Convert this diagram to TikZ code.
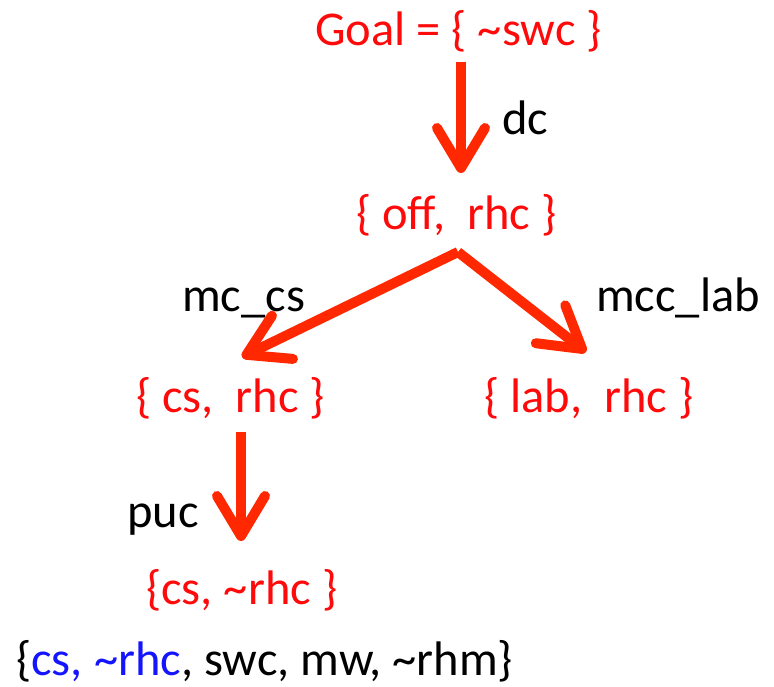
\documentclass[tikz,border=0pt]{standalone}
\usepackage{fontspec}
\setmainfont{Carlito}
\usetikzlibrary{arrows.meta}
\definecolor{txtred}{RGB}{255,10,10}
\definecolor{arrred}{RGB}{255,40,0}
\definecolor{txtblue}{RGB}{20,20,255}
\frenchspacing
\tikzset{
  lbl/.style={font=\fontsize{48.5}{58}\selectfont, inner sep=0pt, anchor=base west},
  state/.style={lbl, text=txtred},
  action/.style={lbl, text=black},
  bigarrow/.style={draw=arrred, line width=10pt,
    -{Straight Barb[length=40pt, width=48pt, round]}},
}
\begin{document}
\begin{tikzpicture}[x=1pt, y=-1pt]
  \useasboundingbox (0,0) rectangle (774,687);

  % states of the regression search
  \node[state] (goal) at (315,46)  {Goal = \{ \textasciitilde swc \}};
  \node[state] (s1)   at (356,230) {\{ off,\ \ rhc \}};
  \node[state] (s2)   at (136,412) {\{ cs,\ \ rhc \}};
  \node[state] (s3)   at (484,412) {\{ lab,\ \ rhc \}};
  \node[state] (s4)   at (146,604) {\{cs, \textasciitilde rhc \}};
  \node[lbl]   (init) at (16,675)  {\{\textcolor{txtblue}{cs, \textasciitilde rhc}, swc, mw, \textasciitilde rhm\}};

  % action labels
  \node[action] (dc)   at (502,135) {dc};
  \node[action] (mccs) at (182,312) {mc\_cs};
  \node[action] (mccl) at (596,312) {mcc\_lab};
  \node[action] (puc)  at (127,527) {puc};

  % arrow end points
  \coordinate (a1s) at (461,62);
  \coordinate (a1e) at (461,173);
  \coordinate (apex) at (458,252);
  \coordinate (a2e) at (242,357);
  \coordinate (a3e) at (586,352);
  \coordinate (a4s) at (241,432);
  \coordinate (a4e) at (241,541);

  \draw[bigarrow] (a1s) -- (a1e);
  \draw[bigarrow] (apex) -- (a2e);
  \draw[bigarrow] (apex) -- (a3e);
  \draw[bigarrow] (a4s) -- (a4e);
\end{tikzpicture}
\end{document}
